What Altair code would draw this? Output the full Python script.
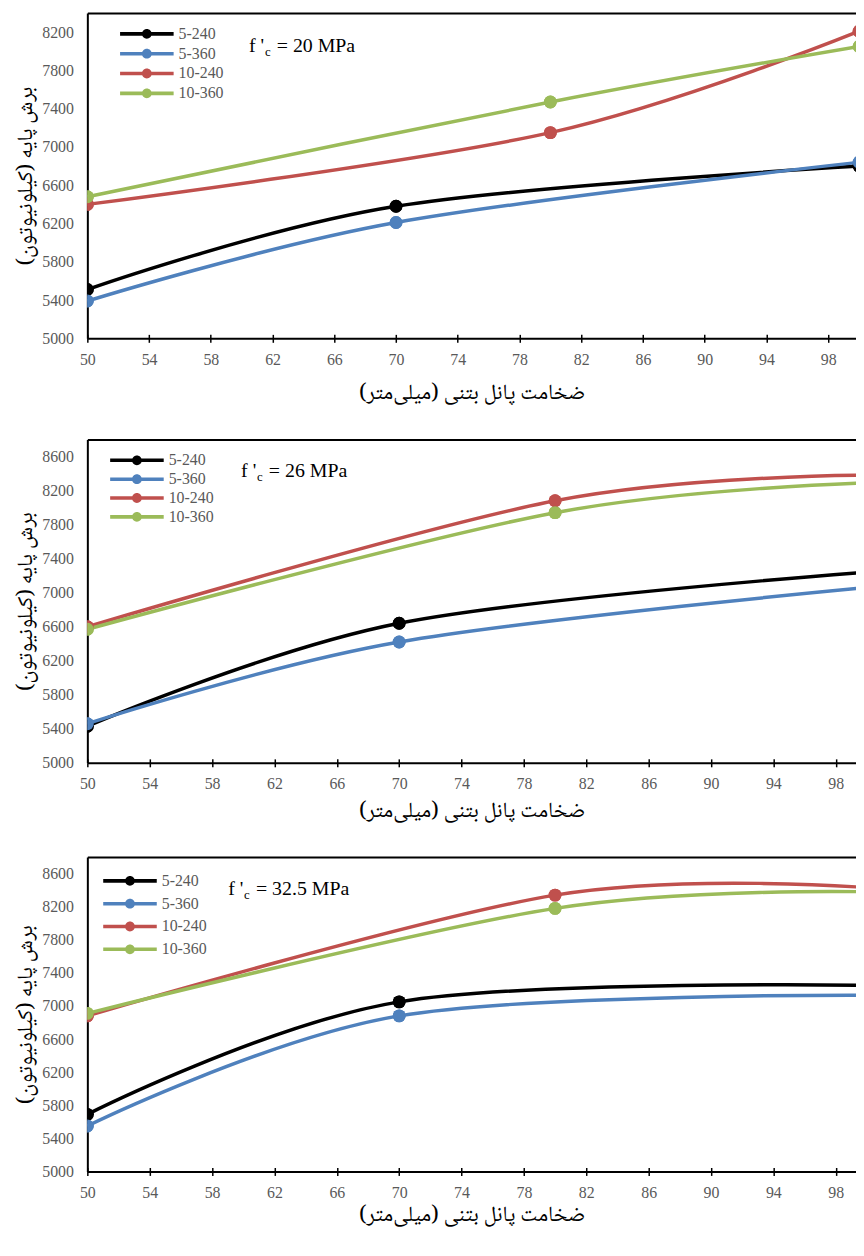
import altair as alt
import pandas as pd

SERIES = ["5-240", "5-360", "10-240", "10-360"]
COLORS = ["#000000", "#4F81BD", "#C0504D", "#9BBB59"]

X_5 = [50, 70, 100]
X_10 = [50, 80, 100]

# f'c = 20 MPa
P20_5_240 = [5510, 6380, 6800]
P20_5_360 = [5390, 6210, 6840]
P20_10_240 = [6400, 7150, 8210]
P20_10_360 = [6480, 7470, 8050]
# f'c = 26 MPa
P26_5_240 = [5430, 6640, 7240]
P26_5_360 = [5460, 6420, 7060]
P26_10_240 = [6600, 8080, 8380]
P26_10_360 = [6570, 7940, 8290]
# f'c = 32.5 MPa
P32_5_240 = [5690, 7050, 7250]
P32_5_360 = [5550, 6880, 7130]
P32_10_240 = [6880, 8340, 8430]
P32_10_360 = [6910, 8180, 8380]

X_TICKS = [50, 54, 58, 62, 66, 70, 74, 78, 82, 86, 90, 94, 98]
Y_TICKS_1 = [5000, 5400, 5800, 6200, 6600, 7000, 7400, 7800, 8200]
Y_TICKS_23 = [5000, 5400, 5800, 6200, 6600, 7000, 7400, 7800, 8200, 8600]
Y_MAX_1 = 8400
Y_MAX_23 = 8800
# visible part of the x axis (the original figure is cropped at the right)
X_MAX_1 = 99.8
X_MAX_23 = 99.3

FC_TEXT = ["= 20 MPa", "= 26  MPa", "= 32.5 MPa"]
X_TITLE = "ضخامت پانل بتنی (میلی\u200cمتر)\u200f"
Y_TITLE = "برش پایه (کیلونیوتون)\u200f"

SERIF = "Liberation Serif, Times New Roman, serif"
FA = "Noto Naskh Arabic, DejaVu Sans"
W = 775
LEG_PATH = ("M-1,-0.2L5,-0.2L5,0.2L-1,0.2Z "
            "M2.55,0A0.55,0.55,0,1,1,1.45,0A0.55,0.55,0,1,1,2.55,0Z")


def make_df(a, b, c, d):
    rows = []
    for name, xs, vs in zip(SERIES, [X_5, X_5, X_10, X_10], [a, b, c, d]):
        for x, v in zip(xs, vs):
            rows.append({"t": x, "v": v, "s": name})
    return pd.DataFrame(rows)


def panel(df, xmax, ymax, yticks, h, fc, xt_pad, leg_x, leg_y, leg_pad, ann_x, ann_y):
    xs = alt.Scale(domain=[50, xmax], nice=False, zero=False)
    ys = alt.Scale(domain=[5000, ymax], nice=False, zero=False)
    cs = alt.Scale(domain=SERIES, range=COLORS)
    base = alt.Chart(df)
    pts = base.mark_circle(size=169, opacity=1, clip=True).encode(
        x=alt.X("t:Q", scale=xs, axis=alt.Axis(
            orient="top", labels=False, ticks=False, domain=True, domainColor="black",
            domainWidth=2, grid=False, title=None, minExtent=0, maxExtent=0)),
        y=alt.Y("v:Q", scale=ys, axis=None),
        color=alt.Color("s:N", scale=cs, legend=alt.Legend(
            title=None, orient="none", legendX=leg_x, legendY=leg_y, symbolType=LEG_PATH,
            symbolSize=324, symbolStrokeWidth=0, labelFont=SERIF, labelFontSize=16,
            labelColor="#595959", labelOffset=41, rowPadding=leg_pad)),
    )
    line = base.mark_line(interpolate="cardinal", tension=0, strokeWidth=3.5, clip=True).encode(
        x=alt.X("t:Q", scale=xs, axis=alt.Axis(
            values=X_TICKS, title=X_TITLE, grid=False, domainColor="black", domainWidth=2,
            tickColor="black", tickWidth=1.5, tickSize=4, labelFont=SERIF, labelFontSize=16,
            labelColor="#595959", labelPadding=9, labelFlush=False, format="d", titleFont=FA,
            titleFontSize=22, titleFontWeight="normal", titleColor="black",
            titlePadding=xt_pad, minExtent=0)),
        y=alt.Y("v:Q", scale=ys, axis=alt.Axis(
            values=yticks, title=Y_TITLE, grid=False, domainColor="black", domainWidth=2,
            ticks=False, tickSize=0, labelFont=SERIF, labelFontSize=16, labelColor="#595959",
            labelPadding=14, format="d", titleFont=FA, titleFontSize=22,
            titleFontWeight="normal", titleColor="black", titlePadding=5, minExtent=0)),
        stroke=alt.Stroke("s:N", scale=cs, legend=None),
    )
    pts_top = base.mark_circle(size=169, opacity=1, clip=True).encode(
        x=alt.X("t:Q", scale=xs, axis=None),
        y=alt.Y("v:Q", scale=ys, axis=None),
        color=alt.Color("s:N", scale=cs),
    )
    tick_in = base.mark_point(opacity=0, size=1, clip=True).encode(
        x=alt.X("t:Q", scale=xs, axis=alt.Axis(
            orient="top", offset=-h, values=X_TICKS, labels=False, domain=False, ticks=True,
            tickSize=4, tickWidth=1.5, tickColor="black", grid=False, title=None,
            minExtent=0, maxExtent=0)),
        y=alt.Y("v:Q", scale=ys, axis=None),
    )
    one = pd.DataFrame({"z": [0]})
    t1 = alt.Chart(one).mark_text(text="f '", font=SERIF, fontSize=20, align="left",
                                  baseline="alphabetic", color="black").encode(
        x=alt.value(ann_x), y=alt.value(ann_y))
    t2 = alt.Chart(one).mark_text(text="c", font=SERIF, fontSize=13, align="left",
                                  baseline="alphabetic", color="black").encode(
        x=alt.value(ann_x + 16), y=alt.value(ann_y + 4))
    t3 = alt.Chart(one).mark_text(text=fc, font=SERIF, fontSize=20, align="left",
                                  baseline="alphabetic", color="black").encode(
        x=alt.value(ann_x + 28), y=alt.value(ann_y))
    return alt.layer(pts, line, pts_top, tick_in, t1, t2, t3).resolve_axis(
        x="independent", y="independent").properties(width=W, height=h)


p1 = panel(make_df(P20_5_240, P20_5_360, P20_10_240, P20_10_360), X_MAX_1, Y_MAX_1, Y_TICKS_1,
           328, FC_TEXT[0], 15, 33, 12, 3, 163, 39)
p2 = panel(make_df(P26_5_240, P26_5_360, P26_10_240, P26_10_360), X_MAX_23, Y_MAX_23, Y_TICKS_23,
           326, FC_TEXT[1], 8, 23, 12, 2, 155, 38)
p3 = panel(make_df(P32_5_240, P32_5_360, P32_10_240, P32_10_360), X_MAX_23, Y_MAX_23, Y_TICKS_23,
           317, FC_TEXT[2], 3, 16, 15, 6, 142, 38)

chart = alt.vconcat(p1, p2, p3, spacing=37).resolve_scale(
    color="independent", stroke="independent").resolve_legend(
    color="independent").properties(
    padding={"left": 6, "top": 0, "right": 0, "bottom": 5}, background="white"
).configure_view(stroke="transparent", strokeWidth=0)

chart.save("out.html", embed_options={"renderer": "svg", "actions": False})
